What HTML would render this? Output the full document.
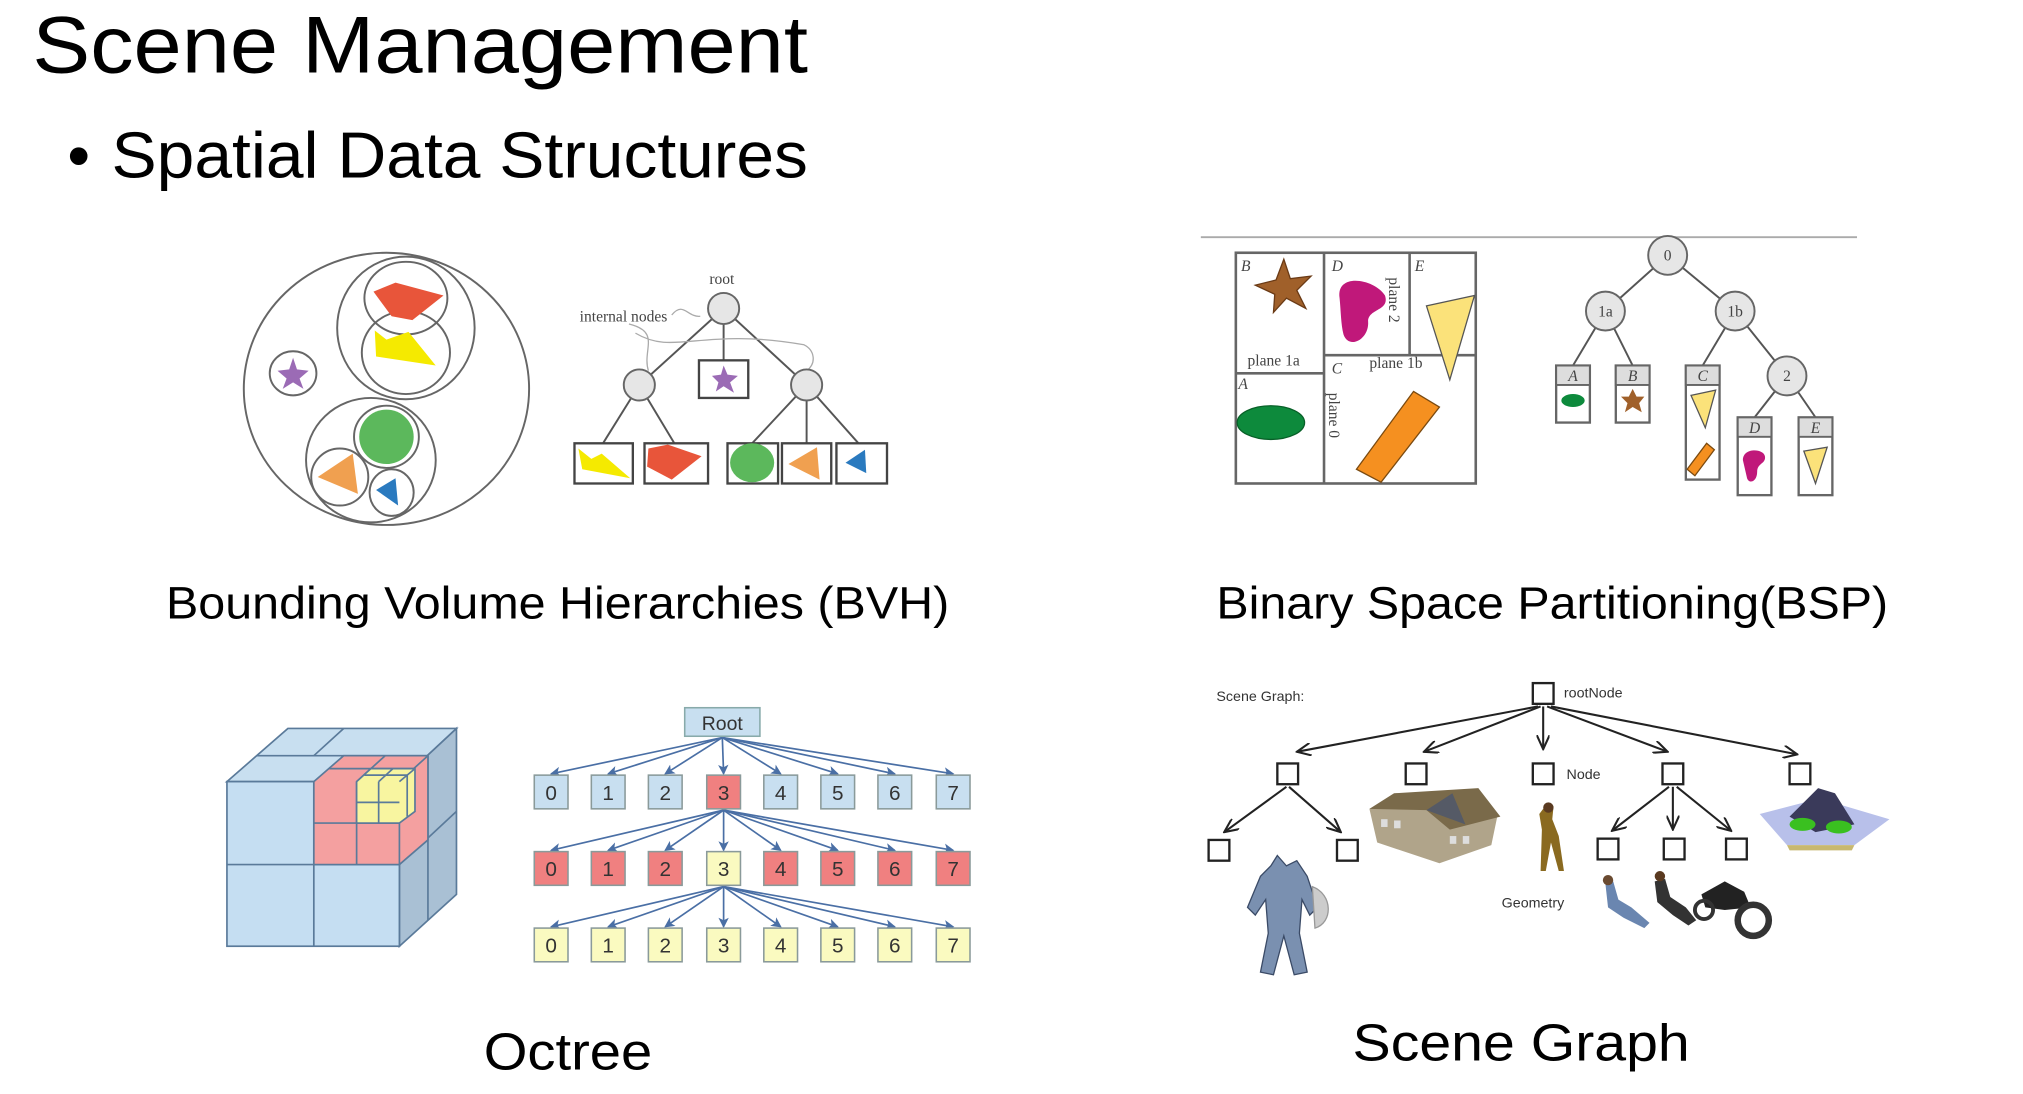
<!DOCTYPE html>
<html><head><meta charset="utf-8"><style>html,body{margin:0;padding:0;background:#fff;}svg{display:block}</style></head>
<body>
<svg width="2023" height="1094" viewBox="0 0 1560 844" preserveAspectRatio="none" xmlns="http://www.w3.org/2000/svg" font-family="Liberation Sans, sans-serif">
<defs>
<marker id="ab" markerWidth="8" markerHeight="8" refX="7" refY="4" orient="auto" markerUnits="userSpaceOnUse"><path d="M0,0 L8,4 L0,8 L2,4 Z" fill="#4a6fa5"/></marker>
<marker id="ak" markerWidth="12" markerHeight="10" refX="11" refY="5" orient="auto" markerUnits="userSpaceOnUse"><path d="M0,0 L11,5 L0,10" fill="none" stroke="#222" stroke-width="1.6"/></marker>
</defs>
<rect width="1560" height="844" fill="#fff"/>
<!-- Titles -->
<text x="25" y="56" font-size="62" textLength="598" lengthAdjust="spacingAndGlyphs">Scene Management</text>
<text x="52" y="137" font-size="50">•</text>
<text x="86" y="137" font-size="50" textLength="537" lengthAdjust="spacingAndGlyphs">Spatial Data Structures</text>
<text x="128" y="477" font-size="35" textLength="604" lengthAdjust="spacingAndGlyphs">Bounding Volume Hierarchies (BVH)</text>
<text x="938" y="477" font-size="35" textLength="518" lengthAdjust="spacingAndGlyphs">Binary Space Partitioning(BSP)</text>
<text x="373" y="825" font-size="40" textLength="130" lengthAdjust="spacingAndGlyphs">Octree</text>
<text x="1043" y="818" font-size="40" textLength="260" lengthAdjust="spacingAndGlyphs">Scene Graph</text>

<!-- BVH -->
<g fill="none" stroke="#666" stroke-width="1.5">
<ellipse cx="298" cy="300" rx="110" ry="105"/>
<ellipse cx="313" cy="253" rx="53" ry="55"/>
<ellipse cx="313" cy="230" rx="32" ry="28"/>
<ellipse cx="313" cy="272" rx="34" ry="32"/>
<ellipse cx="226" cy="288" rx="18" ry="17"/>
<ellipse cx="286" cy="355" rx="50" ry="48"/>
<ellipse cx="298" cy="337" rx="25" ry="24"/>
<ellipse cx="262" cy="368" rx="22" ry="22"/>
<ellipse cx="302" cy="380" rx="17" ry="18"/>
</g>
<path d="M288,225 L305,218 L342,228 L318,247 L302,244 Z" fill="#e8553a"/>
<path d="M289,255 L298,262 L315,256 L336,282 L290,275 Z" fill="#f5ea00"/>
<path d="M226,276 L229,285 L238,286 L231,292 L234,300 L226,295 L218,300 L221,292 L214,286 L223,285 Z" fill="#9b6bb5"/>
<ellipse cx="298" cy="337" rx="21" ry="21" fill="#5cb85c"/>
<path d="M245,368 L272,350 L276,381 Z" fill="#f0a050"/>
<path d="M290,378 L305,369 L307,390 Z" fill="#2a7abf"/>
<g stroke="#555" stroke-width="1.5" fill="none">
<line x1="558" y1="238" x2="493" y2="297"/><line x1="558" y1="238" x2="558" y2="278"/><line x1="558" y1="238" x2="622" y2="297"/>
<line x1="493" y1="297" x2="465" y2="342"/><line x1="493" y1="297" x2="520" y2="342"/>
<line x1="622" y1="297" x2="580" y2="342"/><line x1="622" y1="297" x2="622" y2="342"/><line x1="622" y1="297" x2="662" y2="342"/>
</g>
<path d="M540,244 C530,245 527,232 518,243 M485,250 C510,256 495,270 500,286 M490,257 C520,275 540,252 620,266 C628,270 630,280 622,286" fill="none" stroke="#aaa" stroke-width="1"/>
<g fill="#e6e6e6" stroke="#666" stroke-width="1.5">
<ellipse cx="558" cy="238" rx="12" ry="12"/><ellipse cx="493" cy="297" rx="12" ry="12"/><ellipse cx="622" cy="297" rx="12" ry="12"/>
</g>
<g fill="#fff" stroke="#444" stroke-width="1.8">
<rect x="539" y="278" width="38" height="29"/>
<rect x="443" y="342" width="45" height="31"/><rect x="497" y="342" width="49" height="31"/>
<rect x="561" y="342" width="39" height="31"/><rect x="603" y="342" width="38" height="31"/><rect x="645" y="342" width="39" height="31"/>
</g>
<path d="M558,282 L561,289 L569,290 L563,295 L566,303 L558,298 L552,302 L554,295 L549,290 L556,289 Z" fill="#9b6bb5"/>
<path d="M446,346 L456,354 L464,350 L486,369 L449,362 Z" fill="#f5ea00"/>
<path d="M500,346 L515,343 L541,352 L518,370 L499,360 Z" fill="#e8553a"/>
<ellipse cx="580" cy="357" rx="17" ry="15" fill="#5cb85c"/>
<path d="M608,358 L630,345 L632,370 Z" fill="#f0a050"/>
<path d="M652,357 L667,347 L668,365 Z" fill="#2a7abf"/>
<text x="547" y="219" font-size="12" font-family="Liberation Serif, serif" fill="#444">root</text>
<text x="447" y="248" font-size="12" font-family="Liberation Serif, serif" fill="#444">internal nodes</text>

<!-- BSP -->
<line x1="926" y1="183" x2="1432" y2="183" stroke="#aaa" stroke-width="1.5"/>
<g stroke="#666" stroke-width="2" fill="none">
<rect x="953" y="195" width="185" height="178"/>
<line x1="1021" y1="195" x2="1021" y2="373"/>
<line x1="953" y1="288" x2="1021" y2="288"/>
<line x1="1021" y1="274" x2="1138" y2="274"/>
<line x1="1087" y1="195" x2="1087" y2="274"/>
</g>
<path d="M990,200 L995,215 L1011,213 L1000,224 L1007,238 L992,230 L982,241 L983,227 L968,220 L984,216 Z" fill="#a0602a" stroke="#6a3a15"/>
<path d="M1033,230 C1030,210 1060,215 1068,228 C1072,240 1055,238 1055,248 C1056,262 1040,270 1036,258 C1034,250 1034,240 1033,230 Z" fill="#c0187a"/>
<path d="M1100,236 L1137,228 L1118,293 Z" fill="#fbe27a" stroke="#555"/>
<ellipse cx="980" cy="326" rx="26" ry="13" fill="#0d8a3c" stroke="#086028"/>
<path d="M1090,302 L1110,314 L1065,372 L1046,362 Z" fill="#f59020" stroke="#7a4a10"/>
<g font-family="Liberation Serif, serif" font-size="12" fill="#444">
<text x="957" y="209" font-style="italic">B</text><text x="1027" y="209" font-style="italic">D</text><text x="1091" y="209" font-style="italic">E</text>
<text x="955" y="300" font-style="italic">A</text><text x="1027" y="288" font-style="italic">C</text>
<text x="962" y="282">plane 1a</text><text x="1056" y="284">plane 1b</text>
<text x="1071" y="214" transform="rotate(90 1071 214)">plane 2</text>
<text x="1025" y="303" transform="rotate(90 1025 303)">plane 0</text>
</g>
<g stroke="#555" stroke-width="1.5">
<line x1="1286" y1="197" x2="1238" y2="240"/><line x1="1286" y1="197" x2="1338" y2="240"/>
<line x1="1238" y1="240" x2="1213" y2="282"/><line x1="1238" y1="240" x2="1259" y2="282"/>
<line x1="1338" y1="240" x2="1313" y2="282"/><line x1="1338" y1="240" x2="1378" y2="290"/>
<line x1="1378" y1="290" x2="1353" y2="322"/><line x1="1378" y1="290" x2="1400" y2="322"/>
</g>
<g fill="#e6e6e6" stroke="#666" stroke-width="1.5">
<ellipse cx="1286" cy="197" rx="15" ry="15"/><ellipse cx="1238" cy="240" rx="15" ry="15"/><ellipse cx="1338" cy="240" rx="15" ry="15"/><ellipse cx="1378" cy="290" rx="15" ry="15"/>
</g>
<g fill="#fff" stroke="#666" stroke-width="1.8">
<rect x="1200" y="282" width="26" height="44"/><rect x="1246" y="282" width="26" height="44"/><rect x="1300" y="282" width="26" height="88"/>
<rect x="1340" y="322" width="26" height="60"/><rect x="1387" y="322" width="26" height="60"/>
</g>
<g fill="#ddd" stroke="#666" stroke-width="1.5">
<rect x="1200" y="282" width="26" height="15"/><rect x="1246" y="282" width="26" height="15"/><rect x="1300" y="282" width="26" height="15"/>
<rect x="1340" y="322" width="26" height="15"/><rect x="1387" y="322" width="26" height="15"/>
</g>
<g font-family="Liberation Serif, serif" font-size="12" fill="#444" text-anchor="middle">
<text x="1286" y="201">0</text><text x="1238" y="244">1a</text><text x="1338" y="244">1b</text><text x="1378" y="294">2</text>
<text x="1213" y="294" font-style="italic">A</text><text x="1259" y="294" font-style="italic">B</text><text x="1313" y="294" font-style="italic">C</text>
<text x="1353" y="334" font-style="italic">D</text><text x="1400" y="334" font-style="italic">E</text>
</g>
<ellipse cx="1213" cy="309" rx="9" ry="5" fill="#0d8a3c"/>
<path d="M1259,300 L1262,306 L1268,306 L1264,311 L1266,318 L1259,314 L1253,318 L1255,311 L1250,306 L1256,306 Z" fill="#a0602a"/>
<path d="M1304,305 L1323,301 L1315,330 Z" fill="#fbe27a" stroke="#555"/>
<path d="M1316,342 L1322,347 L1307,367 L1301,362 Z" fill="#f59020" stroke="#7a4a10"/>
<path d="M1344,355 C1344,345 1360,346 1361,352 C1362,358 1355,357 1355,364 C1355,372 1348,374 1347,368 Z" fill="#c0187a"/>
<path d="M1391,348 L1409,345 L1400,373 Z" fill="#fbe27a" stroke="#555"/>

<!-- Octree cube -->
<g stroke="#5a7a9a" stroke-width="1.3">
<polygon points="175,603 222,562 352,562 308,603" fill="#c8dff0"/>
<polygon points="308,603 352,562 352,690 308,730" fill="#a9c0d4"/>
<rect x="175" y="603" width="133" height="127" fill="#c5def2"/>
<line x1="242" y1="603" x2="242" y2="730"/><line x1="175" y1="667" x2="308" y2="667"/>
<line x1="198" y1="583" x2="330" y2="583"/><line x1="265" y1="562" x2="242" y2="583"/>
<line x1="330" y1="583" x2="330" y2="710"/><line x1="308" y1="667" x2="352" y2="626"/>
<polygon points="242,603 265,583 330,583 330,648 308,667 242,667" fill="#f4a0a0"/>
<line x1="242" y1="635" x2="308" y2="635"/><line x1="275" y1="603" x2="275" y2="667"/>
<line x1="308" y1="603" x2="308" y2="667"/><line x1="308" y1="603" x2="330" y2="583"/>
<line x1="254" y1="593" x2="320" y2="593"/><line x1="297" y1="583" x2="275" y2="603"/>
<polygon points="275,603 286,593 320,593 320,626 308,635 275,635" fill="#f8f5a0"/>
<line x1="292" y1="603" x2="292" y2="635"/><line x1="275" y1="619" x2="308" y2="619"/>
<line x1="281" y1="598" x2="314" y2="598"/><line x1="303" y1="593" x2="292" y2="603"/>
<line x1="308" y1="603" x2="320" y2="593"/><line x1="314" y1="598" x2="314" y2="630"/>
</g>
<!-- Octree tree -->
<g stroke="#4a6fa5" stroke-width="1.3" marker-end="url(#ab)">
<line x1="557" y1="569" x2="425" y2="597"/><line x1="557" y1="569" x2="469" y2="597"/><line x1="557" y1="569" x2="513" y2="597"/><line x1="557" y1="569" x2="558" y2="597"/><line x1="557" y1="569" x2="602" y2="597"/><line x1="557" y1="569" x2="646" y2="597"/><line x1="557" y1="569" x2="690" y2="597"/><line x1="557" y1="569" x2="735" y2="597"/>
<line x1="558" y1="625" x2="425" y2="656"/><line x1="558" y1="625" x2="469" y2="656"/><line x1="558" y1="625" x2="513" y2="656"/><line x1="558" y1="625" x2="558" y2="656"/><line x1="558" y1="625" x2="602" y2="656"/><line x1="558" y1="625" x2="646" y2="656"/><line x1="558" y1="625" x2="690" y2="656"/><line x1="558" y1="625" x2="735" y2="656"/>
<line x1="558" y1="684" x2="425" y2="715"/><line x1="558" y1="684" x2="469" y2="715"/><line x1="558" y1="684" x2="513" y2="715"/><line x1="558" y1="684" x2="558" y2="715"/><line x1="558" y1="684" x2="602" y2="715"/><line x1="558" y1="684" x2="646" y2="715"/><line x1="558" y1="684" x2="690" y2="715"/><line x1="558" y1="684" x2="735" y2="715"/>
</g>
<rect x="528" y="546" width="58" height="22" fill="#c8dff0" stroke="#8aa" stroke-width="1.2"/>
<text x="557" y="563" font-size="15" text-anchor="middle" fill="#333">Root</text>
<g stroke="#8a9a9a" stroke-width="1.2">
<g fill="#c8dff0"><rect x="412" y="598" width="26" height="26"/><rect x="456" y="598" width="26" height="26"/><rect x="500" y="598" width="26" height="26"/><rect x="589" y="598" width="26" height="26"/><rect x="633" y="598" width="26" height="26"/><rect x="677" y="598" width="26" height="26"/><rect x="722" y="598" width="26" height="26"/></g>
<rect x="545" y="598" width="26" height="26" fill="#f08080"/>
<g fill="#f08080"><rect x="412" y="657" width="26" height="26"/><rect x="456" y="657" width="26" height="26"/><rect x="500" y="657" width="26" height="26"/><rect x="589" y="657" width="26" height="26"/><rect x="633" y="657" width="26" height="26"/><rect x="677" y="657" width="26" height="26"/><rect x="722" y="657" width="26" height="26"/></g>
<rect x="545" y="657" width="26" height="26" fill="#fafac0"/>
<g fill="#fafac0"><rect x="412" y="716" width="26" height="26"/><rect x="456" y="716" width="26" height="26"/><rect x="500" y="716" width="26" height="26"/><rect x="545" y="716" width="26" height="26"/><rect x="589" y="716" width="26" height="26"/><rect x="633" y="716" width="26" height="26"/><rect x="677" y="716" width="26" height="26"/><rect x="722" y="716" width="26" height="26"/></g>
</g>
<g font-size="16" text-anchor="middle" fill="#333">
<text x="425" y="617">0</text><text x="469" y="617">1</text><text x="513" y="617">2</text><text x="558" y="617">3</text><text x="602" y="617">4</text><text x="646" y="617">5</text><text x="690" y="617">6</text><text x="735" y="617">7</text>
<text x="425" y="676">0</text><text x="469" y="676">1</text><text x="513" y="676">2</text><text x="558" y="676">3</text><text x="602" y="676">4</text><text x="646" y="676">5</text><text x="690" y="676">6</text><text x="735" y="676">7</text>
<text x="425" y="735">0</text><text x="469" y="735">1</text><text x="513" y="735">2</text><text x="558" y="735">3</text><text x="602" y="735">4</text><text x="646" y="735">5</text><text x="690" y="735">6</text><text x="735" y="735">7</text>
</g>

<!-- Scene graph -->
<text x="938" y="541" font-size="11" fill="#333">Scene Graph:</text>
<text x="1206" y="538" font-size="11" fill="#333">rootNode</text>
<text x="1208" y="601" font-size="11" fill="#333">Node</text>
<text x="1158" y="700" font-size="11" fill="#333">Geometry</text>
<g stroke="#222" stroke-width="1.6" marker-end="url(#ak)">
<line x1="1186" y1="545" x2="1000" y2="580"/><line x1="1188" y1="545" x2="1098" y2="580"/><line x1="1190" y1="545" x2="1190" y2="578"/><line x1="1193" y1="545" x2="1286" y2="580"/><line x1="1196" y1="545" x2="1386" y2="582"/>
<line x1="992" y1="607" x2="944" y2="642"/><line x1="994" y1="607" x2="1034" y2="642"/>
<line x1="1287" y1="607" x2="1243" y2="641"/><line x1="1290" y1="607" x2="1290" y2="640"/><line x1="1293" y1="607" x2="1335" y2="641"/>
</g>
<g fill="#fff" stroke="#222" stroke-width="1.8">
<rect x="1182" y="527" width="16" height="16"/>
<rect x="985" y="589" width="16" height="16"/><rect x="1084" y="589" width="16" height="16"/><rect x="1182" y="589" width="16" height="16"/><rect x="1282" y="589" width="16" height="16"/><rect x="1380" y="589" width="16" height="16"/>
<rect x="932" y="648" width="16" height="16"/><rect x="1031" y="648" width="16" height="16"/>
<rect x="1232" y="647" width="16" height="16"/><rect x="1283" y="647" width="16" height="16"/><rect x="1331" y="647" width="16" height="16"/>
</g>
<!-- house -->
<polygon points="1056,624 1075,614 1140,611 1155,628 1150,652 1110,666 1062,650" fill="#b0a48a"/>
<polygon points="1056,624 1075,612 1140,608 1157,630 1118,640 1100,625" fill="#7a6a4a"/>
<polygon points="1100,625 1120,612 1130,636" fill="#555a66"/>
<g fill="#ddd"><rect x="1065" y="632" width="5" height="6"/><rect x="1075" y="633" width="5" height="6"/><rect x="1118" y="645" width="5" height="6"/><rect x="1128" y="645" width="5" height="6"/></g>
<!-- woman -->
<path d="M1193,620 L1198,622 L1197,632 L1202,645 L1206,672 L1202,672 L1196,650 L1192,672 L1188,672 L1189,640 L1187,628 Z" fill="#8a6a20"/>
<circle cx="1194" cy="623" r="4" fill="#5a3a20"/>
<!-- knight -->
<path d="M985,660 L992,668 L1000,664 L1008,676 L1016,700 L1010,706 L1004,694 L1002,720 L1008,750 L998,752 L990,722 L982,752 L972,750 L978,720 L976,694 L968,706 L962,700 L972,676 L980,668 Z" fill="#7a90b0" stroke="#3a4a66" stroke-width="1"/>
<path d="M1012,684 C1028,690 1028,712 1014,716 Z" fill="#ccc" stroke="#999"/>
<!-- seated people -->
<path d="M1238,682 L1244,680 L1248,694 L1258,700 L1272,712 L1268,716 L1252,708 L1240,700 Z" fill="#6a86b0"/>
<circle cx="1240" cy="679" r="4" fill="#6a4a30"/>
<path d="M1276,680 L1284,678 L1288,692 L1300,700 L1308,710 L1302,714 L1290,706 L1278,696 Z" fill="#333"/>
<circle cx="1280" cy="676" r="4" fill="#5a3a20"/>
<!-- motorcycle -->
<path d="M1312,690 L1330,680 L1345,688 L1350,700 L1330,702 L1315,700 Z" fill="#222"/>
<circle cx="1352" cy="710" r="12" fill="none" stroke="#333" stroke-width="5"/>
<circle cx="1314" cy="702" r="7" fill="none" stroke="#333" stroke-width="3"/>
<!-- island -->
<polygon points="1357,628 1403,616 1457,632 1430,652 1378,652" fill="#b8c0ea"/>
<polygon points="1378,652 1430,652 1428,656 1380,656" fill="#c8b870"/>
<polygon points="1380,630 1402,608 1415,612 1430,636 1400,642" fill="#3a3a5a"/>
<ellipse cx="1390" cy="636" rx="10" ry="5" fill="#3ac020"/><ellipse cx="1418" cy="638" rx="10" ry="5" fill="#3ac020"/>
</svg>
</body></html>
